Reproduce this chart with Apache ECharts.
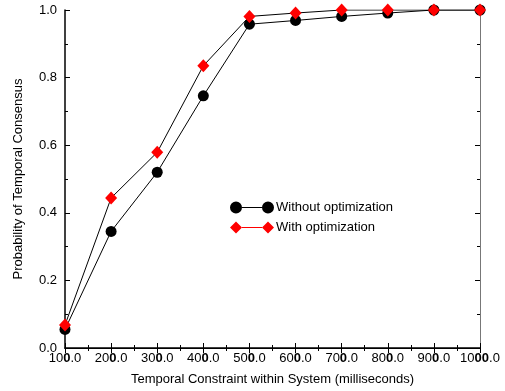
<!DOCTYPE html>
<html lang="en" style="height: 100%">
<head>
    <meta charset="UTF-8">
    <title>Probability of Temporal Consensus</title>
    <script src="https://cdn.jsdelivr.net/npm/echarts@6/dist/echarts.min.js"></script>
</head>
<body style="height: 100%; margin: 0">
<div id="main" style="width: 505px; height: 391px"></div>
<script>
    // temporal constraint (ms)
    var constraints = [100, 200, 300, 400, 500, 600, 700, 800, 900, 1000];
    var withoutOpt = [0.055, 0.345, 0.52, 0.746, 0.958, 0.969, 0.981, 0.991, 1.0, 1.0];
    var withOpt = [0.068, 0.444, 0.579, 0.835, 0.981, 0.991, 1.0, 1.0, 1.0, 1.0];
    var yTicks = [0, 0.2, 0.4, 0.6, 0.8, 1.0];

    var font = 'Liberation Sans, Arial, sans-serif';
    var circleIcon = 'path://M6,0 A6,6 0 1,1 6,12 A6,6 0 1,1 6,0 Z M12,5.5 L32,5.5 L32,6.5 L12,6.5 Z M38,0 A6,6 0 1,1 38,12 A6,6 0 1,1 38,0 Z';
    var diamondIcon = 'path://M0,6 L6,0 L12,6 L6,12 Z M12,5.5 L32,5.5 L32,6.5 L12,6.5 Z M32,6 L38,0 L44,6 L38,12 Z';

    function pairs(vals) {
        return constraints.map(function (c, i) { return [c, vals[i]]; });
    }

    var hiddenX = {
        type: 'value', min: 100, max: 1000, interval: 100,
        axisLine: {show: true, lineStyle: {color: '#000', width: 1}},
        axisTick: {show: true, inside: true, length: 5, lineStyle: {color: '#000'}},
        minorTick: {show: true, splitNumber: 2, length: 3, lineStyle: {color: '#000'}},
        axisLabel: {show: false},
        splitLine: {show: false}
    };
    var hiddenY = {
        type: 'value', min: 0, max: 1, interval: 0.2,
        axisLine: {show: true, lineStyle: {color: '#000', width: 1}},
        axisTick: {show: true, inside: true, length: 5, lineStyle: {color: '#000'}},
        minorTick: {show: true, splitNumber: 2, length: 3, lineStyle: {color: '#000'}},
        axisLabel: {show: false},
        splitLine: {show: false}
    };

    var option = {
        backgroundColor: '#fff',
        animation: false,
        grid: {left: 65, right: 25, top: 10, bottom: 42},
        legend: {
            left: 225, top: 196,
            orient: 'vertical',
            itemWidth: 44, itemHeight: 12, itemGap: 7,
            textStyle: {fontFamily: font, fontSize: 13, color: '#000', padding: [0, 0, 0, -3]},
            data: [
                {name: 'Without optimization', icon: circleIcon},
                {name: 'With optimization', icon: diamondIcon}
            ]
        },
        xAxis: [{
            type: 'value', min: 100, max: 1000, interval: 100,
            name: 'Temporal Constraint within System (milliseconds)',
            nameLocation: 'middle', nameGap: 25,
            nameTextStyle: {fontFamily: font, fontSize: 13, color: '#000'},
            axisLine: {show: true, lineStyle: {color: '#000', width: 1.5}},
            axisTick: {show: true, inside: true, length: 5, lineStyle: {color: '#000'}},
            minorTick: {show: true, splitNumber: 2, length: 3, lineStyle: {color: '#000'}},
            axisLabel: {
                fontFamily: font, fontSize: 13, color: '#000', margin: 4,
                formatter: function (v) {
                    var s = v.toFixed(1);
                    var n = v >= 1000 ? 2 : 1;
                    return s.slice(0, 2) + '{b|' + s.slice(2, 2 + n) + '}' + s.slice(2 + n);
                },
                rich: {b: {fontFamily: font, fontSize: 13, color: '#000', fontWeight: 'bold'}}
            },
            splitLine: {show: false}
        }, Object.assign({}, hiddenX, {position: 'top'})],
        yAxis: [{
            type: 'value', min: 0, max: 1, interval: 0.2,
            name: 'Probability of Temporal Consensus',
            nameLocation: 'middle', nameGap: 40,
            nameTextStyle: {fontFamily: font, fontSize: 13, color: '#000'},
            axisLine: {show: true, lineStyle: {color: '#000', width: 1.5}},
            axisTick: {show: true, inside: true, length: 5, lineStyle: {color: '#000'}},
            minorTick: {show: true, splitNumber: 2, length: 3, lineStyle: {color: '#000'}},
            axisLabel: {
                fontFamily: font, fontSize: 13, color: '#000', margin: 8,
                formatter: function (v) { return v.toFixed(1); }
            },
            splitLine: {show: false}
        }, Object.assign({}, hiddenY, {position: 'right',
            axisLine: {show: true, lineStyle: {color: '#777', width: 1}}})],
        series: [{
            name: 'Without optimization',
            type: 'line',
            data: pairs(withoutOpt),
            symbol: 'circle', symbolSize: 11,
            itemStyle: {color: '#000'},
            lineStyle: {color: '#000', width: 1},
            z: 2
        }, {
            name: 'With optimization',
            type: 'line',
            data: pairs(withOpt),
            symbol: 'diamond', symbolSize: [12, 13],
            itemStyle: {color: '#ff0000'},
            lineStyle: {color: '#000', width: 1},
            z: 3
        }]
    };
    var myChart = echarts.init(document.getElementById('main'));
    myChart.setOption(option);
</script>
</body>
</html>
